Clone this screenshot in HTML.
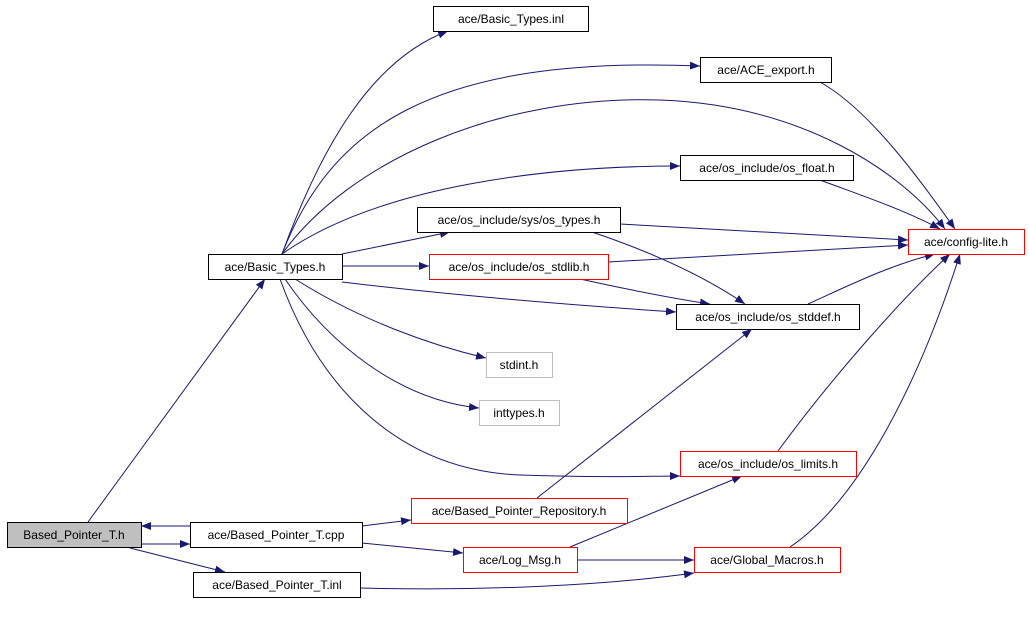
<!DOCTYPE html>
<html><head><style>
html,body{margin:0;padding:0;background:#fff;}
svg{display:block;}
text{font-family:"Liberation Sans",sans-serif;font-size:12px;fill:#000;}
</style></head><body>
<svg width="1029" height="627" viewBox="0 0 1029 627" xmlns="http://www.w3.org/2000/svg">
<defs>
<marker id="a" viewBox="0 0 10 8" refX="10" refY="4" markerWidth="10" markerHeight="8" markerUnits="userSpaceOnUse" orient="auto">
<path d="M0,0 L10,4 L0,8 z" fill="#191970"/>
</marker>
</defs>
<g fill="none" stroke="#191970" stroke-width="1" marker-end="url(#a)">
<path d="M88,522 L265,279"/>
<path d="M190,526 L141,526"/>
<path d="M141,544 L190,544"/>
<path d="M130,548 L225,572"/>
<path d="M362,526 L411,520"/>
<path d="M362,543 L463,553"/>
<path d="M360,588 C480,591 600,586 694,573"/>
<path d="M537,498 L752,329"/>
<path d="M577,560 L694,560"/>
<path d="M570,547 L742,476"/>
<path d="M790,547 C860,500 920,380 960,254"/>
<path d="M778,451 C830,380 900,300 950,254"/>
<path d="M808,304 C850,285 890,265 935,254"/>
<path d="M608,262 L908,245"/>
<path d="M620,224 L908,240"/>
<path d="M592,232 C660,255 710,280 745,304"/>
<path d="M580,279 C630,290 670,298 710,304"/>
<path d="M342,282 C450,295 570,305 676,312"/>
<path d="M342,266 L429,266"/>
<path d="M342,254 L450,232"/>
<path d="M282,254 C320,150 370,60 448,31"/>
<path d="M282,254 C330,130 430,55 700,66"/>
<path d="M282,254 C350,160 500,95 660,100 C800,105 900,170 945,229"/>
<path d="M282,254 C380,185 550,166 680,166"/>
<path d="M295,279 C360,320 430,345 486,358"/>
<path d="M285,279 C330,345 400,400 479,408"/>
<path d="M280,279 C320,390 400,470 520,475 C600,478 650,476 680,476"/>
<path d="M820,82 C870,110 920,180 955,229"/>
<path d="M820,180 C860,195 905,210 940,229"/>
</g>
<g stroke-width="1">
<rect x="433.5" y="6.5" width="155" height="25" fill="#fff" stroke="#000"/>
<rect x="700.5" y="57.5" width="131" height="25" fill="#fff" stroke="#000"/>
<rect x="680.5" y="155.5" width="173" height="25" fill="#fff" stroke="#000"/>
<rect x="417.5" y="207.5" width="203" height="25" fill="#fff" stroke="#000"/>
<rect x="908.5" y="229.5" width="116" height="25" fill="#fff" stroke="#f00"/>
<rect x="208.5" y="254.5" width="134" height="25" fill="#fff" stroke="#000"/>
<rect x="429.5" y="254.5" width="179" height="25" fill="#fff" stroke="#f00"/>
<rect x="676.5" y="304.5" width="183" height="25" fill="#fff" stroke="#000"/>
<rect x="486.5" y="352.5" width="66" height="25" fill="#fff" stroke="#bfbfbf"/>
<rect x="479.5" y="400.5" width="80" height="25" fill="#fff" stroke="#bfbfbf"/>
<rect x="680.5" y="451.5" width="176" height="25" fill="#fff" stroke="#f00"/>
<rect x="7.5" y="522.5" width="134" height="25" fill="#bfbfbf" stroke="#000"/>
<rect x="190.5" y="522.5" width="172" height="25" fill="#fff" stroke="#000"/>
<rect x="411.5" y="498.5" width="216" height="25" fill="#fff" stroke="#f00"/>
<rect x="463.5" y="547.5" width="114" height="25" fill="#fff" stroke="#f00"/>
<rect x="694.5" y="547.5" width="146" height="25" fill="#fff" stroke="#f00"/>
<rect x="193.5" y="572.5" width="167" height="25" fill="#fff" stroke="#000"/>
</g>
<g text-anchor="middle">
<text x="511" y="23">ace/Basic_Types.inl</text>
<text x="766" y="74">ace/ACE_export.h</text>
<text x="767" y="172">ace/os_include/os_float.h</text>
<text x="519" y="224">ace/os_include/sys/os_types.h</text>
<text x="966" y="246">ace/config-lite.h</text>
<text x="275" y="271">ace/Basic_Types.h</text>
<text x="519" y="271">ace/os_include/os_stdlib.h</text>
<text x="768" y="321">ace/os_include/os_stddef.h</text>
<text x="519" y="369">stdint.h</text>
<text x="519" y="417">inttypes.h</text>
<text x="768" y="468">ace/os_include/os_limits.h</text>
<text x="74" y="539">Based_Pointer_T.h</text>
<text x="276" y="539">ace/Based_Pointer_T.cpp</text>
<text x="519" y="515">ace/Based_Pointer_Repository.h</text>
<text x="520" y="564">ace/Log_Msg.h</text>
<text x="767" y="564">ace/Global_Macros.h</text>
<text x="277" y="589">ace/Based_Pointer_T.inl</text>
</g>
</svg>
</body></html>
